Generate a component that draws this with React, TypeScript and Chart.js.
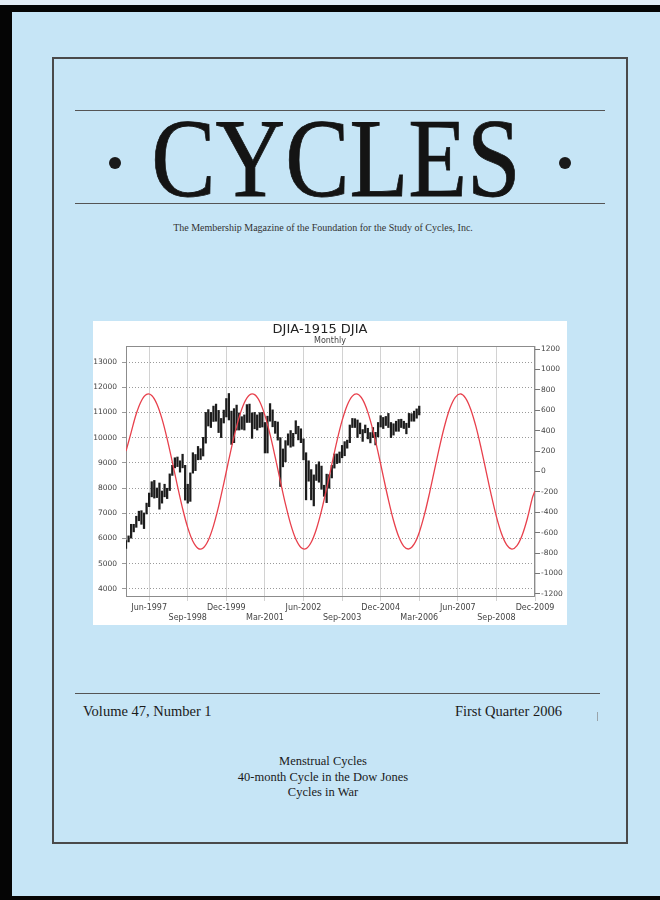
import React, { useEffect, useRef } from 'react';
import { Chart, registerables } from 'chart.js';
Chart.register(...registerables);

// ---- data ----
const xTickMonths = [9, 24, 39, 54, 69, 84, 99, 114, 129, 144, 159];
const xTickLabels = ['Jun-1997', 'Sep-1998', 'Dec-1999', 'Mar-2001', 'Jun-2002', 'Sep-2003', 'Dec-2004', 'Mar-2006', 'Jun-2007', 'Sep-2008', 'Dec-2009'];
const leftTicks = [4000, 5000, 6000, 7000, 8000, 9000, 10000, 11000, 12000, 13000];
const rightTicks = [-1200, -1000, -800, -600, -400, -200, 0, 200, 400, 600, 800, 1000, 1200];

// DJIA monthly ranges, Sep-1996 (month 0) .. Mar-2006 (month 114)
const djiaLow = [
  5600, 5860, 6010, 6260, 6440, 6700, 6560, 6390, 6970, 7260,
  7650, 7600, 7620, 7160, 7400, 7650, 7580, 7900, 8500, 8800,
  8850, 8630, 8800, 7520, 7400, 7470, 8590, 8690, 9120, 9130,
  9270, 9780, 10460, 10400, 10640, 10650, 10200, 10000, 10580, 10820,
  10700, 9730, 9800, 10300, 10300, 10330, 10300, 10600, 10600, 9970,
  10350, 10300, 10400, 10420, 9390, 9390, 10650, 10430, 10170, 9900,
  8060, 8840, 9040, 9700, 9620, 9660, 10150, 9910, 9800, 9120,
  7530, 8270, 7530, 7290, 8300, 8230, 7950, 7670, 7420, 7990,
  8400, 8790, 8970, 9000, 9200, 9280, 9580, 9800, 10400, 10400,
  10000, 10150, 9850, 10190, 9950, 9790, 10000, 9710, 10030, 10420,
  10360, 10480, 10400, 10000, 10100, 10250, 10250, 10400, 10360, 10150,
  10400, 10650, 10650, 10770, 10900,
];
const djiaHigh = [
  5910, 6100, 6560, 6560, 6880, 7080, 7100, 7010, 7400, 7800,
  8250, 8300, 8000, 8200, 7880, 8150, 7990, 8560, 8900, 9200,
  9230, 9080, 9340, 8900, 8150, 8600, 9400, 9330, 9650, 9560,
  10010, 11000, 11110, 11000, 11250, 11330, 11080, 10760, 11090, 11550,
  11750, 11050, 11150, 11290, 10980, 10830, 10900, 11310, 11330, 10980,
  11000, 10900, 10990, 11000, 10600, 10850, 11350, 11100, 10650, 10620,
  10000, 9550, 9880, 10150, 10280, 10170, 10670, 10450, 10350, 9950,
  9400, 9080, 8730, 8520, 8930, 9040, 8870, 8110, 8550, 8530,
  8900, 9350, 9350, 9430, 9690, 9840, 9900, 10500, 10760, 10750,
  10700, 10580, 10320, 10500, 10370, 10200, 10400, 10210, 10600, 10870,
  10800, 10840, 10960, 10600, 10550, 10650, 10720, 10730, 10650, 10570,
  10960, 10950, 11050, 11140, 11250,
];

// 40-month cycle (right axis), read every two months
const cycleMonths = [
  0, 2, 4, 6, 8, 10, 12, 14, 16, 18, 20, 22, 24, 26, 28, 30, 32, 34, 36, 38,
  40, 42, 44, 46, 48, 50, 52, 54, 56, 58, 60, 62, 64, 66, 68, 70, 72, 74, 76, 78,
  80, 82, 84, 86, 88, 90, 92, 94, 96, 98, 100, 102, 104, 106, 108, 110, 112, 114, 116, 118,
  120, 122, 124, 126, 128, 130, 132, 134, 136, 138, 140, 142, 144, 146, 148, 150, 152, 154, 156, 158, 159,
];
const cycleValues = [
  200, 384, 566, 694, 756, 745, 662, 516, 320, 94,
  -141, -363, -550, -684, -753, -749, -673, -533, -342, -118,
  118, 342, 533, 673, 749, 753, 684, 550, 363, 141,
  -94, -320, -516, -662, -744, -756, -694, -566, -384, -165,
  70, 298, 498, 650, 739, 758, 704, 582, 404, 188,
  -46, -276, -480, -637, -733, -759, -712, -597, -424, -211,
  23, 254, 461, 624, 727, 760, 720, 611, 444, 234,
  1, -231, -442, -610, -719, -760, -727, -625, -463, -256, -190,
];

const framePlugin = {
  id: 'plotFrame',
  beforeDatasetsDraw(chart: any) {
    const { ctx, chartArea } = chart;
    const { left, top, right, bottom } = chartArea;
    ctx.save();
    ctx.strokeStyle = '#8c8c8c';
    ctx.lineWidth = 1;
    ctx.strokeRect(Math.round(left) + 0.5, Math.round(top) + 0.5, Math.round(right - left) - 1, Math.round(bottom - top) - 1);
    ctx.restore();
  },
};

function DjiaChart() {
  const ref = useRef<HTMLCanvasElement | null>(null);
  useEffect(() => {
    if (!ref.current) return;
    const tickFont = { family: 'DejaVu Sans', size: 7.5 };
    const chart = new Chart(ref.current, {
      type: 'bar',
      data: {
        datasets: [
          {
            type: 'line',
            label: '40-month cycle',
            data: cycleMonths.map((m, i) => ({ x: m, y: cycleValues[i] })),
            yAxisID: 'y1',
            xAxisID: 'x',
            borderColor: '#e8404c',
            borderWidth: 1.3,
            pointRadius: 0,
            tension: 0.35,
            fill: false,
            order: 0,
          } as any,
          {
            type: 'bar',
            label: 'DJIA',
            data: djiaLow.map((lo, i) => ({ x: i, y: [lo, djiaHigh[i]] })),
            yAxisID: 'y',
            xAxisID: 'x',
            backgroundColor: '#1c1c1c',
            borderWidth: 0,
            barThickness: 1.6,
            grouped: false,
            order: 1,
          } as any,
        ],
      },
      options: {
        animation: false,
        responsive: false,
        devicePixelRatio: 1,
        layout: { padding: { top: 25, left: 0, right: 0, bottom: 0 } },
        plugins: {
          legend: { display: false },
          tooltip: { enabled: false },
          title: { display: false },
        },
        scales: {
          x: {
            type: 'linear',
            offset: false,
            min: 0,
            max: 159,
            afterBuildTicks: (s: any) => { s.ticks = xTickMonths.map((v) => ({ value: v })); },
            afterFit: (s: any) => { s.height = 28; },
            ticks: {
              autoSkip: false,
              maxRotation: 0,
              padding: 2,
              color: '#444',
              font: { family: 'DejaVu Sans', size: 8, lineHeight: 1.25 },
              callback: (v: any) => {
                const i = xTickMonths.indexOf(Number(v));
                if (i < 0) return '';
                return i % 2 === 0 ? [xTickLabels[i], ''] : ['', xTickLabels[i]];
              },
            },
            grid: { offset: false, color: '#d2d2d2', lineWidth: 1, tickLength: 4, drawTicks: true },
            border: { display: false },
          },
          y: {
            type: 'linear',
            position: 'left',
            min: 3675,
            max: 13635,
            afterBuildTicks: (s: any) => { s.ticks = leftTicks.map((v) => ({ value: v })); },
            afterFit: (s: any) => { s.width = 33; },
            ticks: { padding: 5, color: '#444', font: tickFont, callback: (v: any) => String(v) },
            grid: { color: '#9a9a9a', lineWidth: 1, tickLength: 4 },
            border: { display: false, dash: [1, 2] },
          },
          y1: {
            type: 'linear',
            position: 'right',
            min: -1230,
            max: 1230,
            afterBuildTicks: (s: any) => { s.ticks = rightTicks.map((v) => ({ value: v })); },
            afterFit: (s: any) => { s.width = 32; },
            ticks: { padding: 1, color: '#444', font: tickFont, callback: (v: any) => String(v) },
            grid: { drawOnChartArea: false, color: '#777', tickLength: 5 },
            border: { display: false },
          },
        },
      } as any,
      plugins: [framePlugin],
    });
    return () => chart.destroy();
  }, []);
  return <canvas ref={ref} width={474} height={304} style={{ display: 'block', width: 474, height: 304 }} />;
}

const serif = '"Liberation Serif", "Times New Roman", serif';

export default function App() {
  const abs = (s: React.CSSProperties): React.CSSProperties => ({ position: 'absolute', ...s });
  return (
    <div style={abs({ left: 0, top: 0, width: 660, height: 900, background: '#c6e5f6', overflow: 'hidden' })}>
      {/* scan edges */}
      <div style={abs({ left: 0, top: 0, width: 660, height: 5, background: '#e3edf6' })} />
      <div style={abs({ left: 0, top: 5, width: 660, height: 7, background: '#050505' })} />
      <div style={abs({ left: 0, top: 5, width: 12, height: 895, background: '#050505' })} />
      <div style={abs({ left: 0, top: 896, width: 660, height: 4, background: '#050505' })} />

      {/* cover frame */}
      <div style={abs({ left: 52, top: 57, width: 576, height: 787, border: '2px solid #4a4a4a', boxSizing: 'border-box' })} />

      {/* masthead */}
      <div style={abs({ left: 75, top: 110, width: 530, height: 0, borderTop: '1.5px solid #555' })} />
      <div style={abs({ left: 75, top: 203, width: 530, height: 0, borderTop: '1.5px solid #555' })} />
      <div style={abs({ left: 109, top: 157, width: 12, height: 12, borderRadius: 6, background: '#1a1a1a' })} />
      <div style={abs({ left: 559, top: 157, width: 12, height: 12, borderRadius: 6, background: '#1a1a1a' })} />
      <div style={abs({ left: 6, top: 102, width: 660, fontFamily: serif, fontSize: 112, lineHeight: '112px', textAlign: 'center', color: '#141414', transform: 'scaleX(0.86)', transformOrigin: '330px 0', WebkitTextStroke: '0.8px #141414' })}>CYCLES</div>
      <div style={abs({ left: -7, top: 223, width: 660, fontFamily: serif, fontSize: 10, lineHeight: '10px', textAlign: 'center', color: '#333' })}>
        The Membership Magazine of the Foundation for the Study of Cycles, Inc.
      </div>

      {/* chart */}
      <div style={abs({ left: 93, top: 321, width: 474, height: 304, background: '#ffffff' })}>
        <DjiaChart />
        <div style={abs({ left: 0, top: 0, width: 454, textAlign: 'center', fontFamily: 'DejaVu Sans', fontSize: 13, lineHeight: '15px', color: '#222' })}>DJIA-1915 DJIA</div>
        <div style={abs({ left: 0, top: 15, width: 474, textAlign: 'center', fontFamily: 'DejaVu Sans', fontSize: 8, lineHeight: '9px', color: '#444' })}>Monthly</div>
      </div>

      {/* footer */}
      <div style={abs({ left: 75, top: 693, width: 525, height: 0, borderTop: '1.5px solid #555' })} />
      <div style={abs({ left: 83, top: 704, fontFamily: serif, fontSize: 14.5, lineHeight: '14.5px', color: '#1a1a1a', whiteSpace: 'nowrap' })}>Volume 47, Number 1</div>
      <div style={abs({ left: 300, top: 704, width: 262, textAlign: 'right', fontFamily: serif, fontSize: 14.5, lineHeight: '14.5px', color: '#1a1a1a', whiteSpace: 'nowrap' })}>First Quarter 2006</div>
      <div style={abs({ left: 597, top: 712, width: 1, height: 9, background: '#9aa4aa' })} />
      <div style={abs({ left: 0, top: 754, width: 646, textAlign: 'center', fontFamily: serif, fontSize: 12.5, lineHeight: '15.5px', color: '#1a1a1a' })}>
        <div>Menstrual Cycles</div>
        <div>40-month Cycle in the Dow Jones</div>
        <div>Cycles in War</div>
      </div>
    </div>
  );
}
